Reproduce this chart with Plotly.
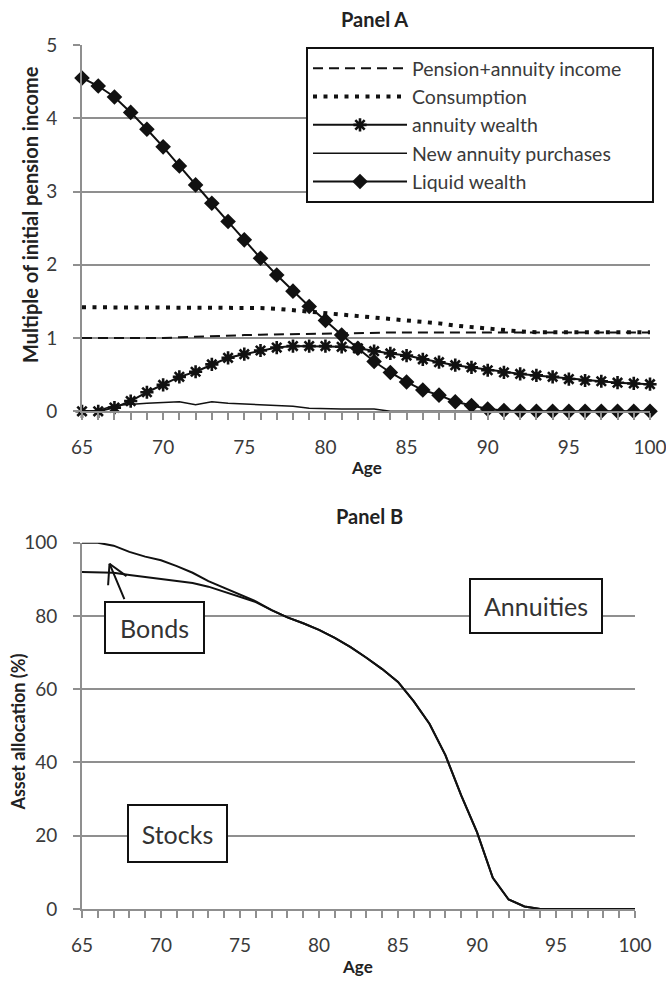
import plotly.graph_objects as go

# ---------------- data ----------------
ages = list(range(65, 101))

# Panel A (multiples of initial pension income)
pension_income = [1.00, 1.00, 0.995, 0.99, 0.99, 1.00, 1.01, 1.02, 1.025, 1.03, 1.04, 1.045,
                  1.05, 1.055, 1.06, 1.065, 1.07, 1.075, 1.075, 1.075, 1.075, 1.075, 1.075, 1.075,
                  1.075, 1.075, 1.075, 1.075, 1.075, 1.075, 1.075, 1.075, 1.075, 1.075, 1.075, 1.075]
consumption = [1.42, 1.42, 1.42, 1.42, 1.42, 1.42, 1.42, 1.42, 1.42, 1.42, 1.42, 1.41,
               1.40, 1.38, 1.37, 1.35, 1.33, 1.31, 1.29, 1.27, 1.25, 1.22, 1.20, 1.17,
               1.15, 1.12, 1.10, 1.09, 1.08, 1.08, 1.08, 1.08, 1.08, 1.08, 1.08, 1.08]
annuity_wealth = [0.00, 0.00, 0.05, 0.14, 0.26, 0.36, 0.47, 0.54, 0.64, 0.73, 0.78, 0.83,
                  0.87, 0.89, 0.89, 0.89, 0.88, 0.86, 0.82, 0.79, 0.76, 0.71, 0.67, 0.63,
                  0.60, 0.56, 0.53, 0.51, 0.49, 0.47, 0.44, 0.42, 0.41, 0.39, 0.38, 0.37]
new_annuity = [0.00, 0.01, 0.08, 0.10, 0.11, 0.12, 0.13, 0.09, 0.13, 0.11, 0.10, 0.10,
               0.08, 0.07, 0.04, 0.03, 0.03, 0.03, 0.03, 0.00, 0.00, 0.00, 0.00, 0.00,
               0.00, 0.00, 0.00, 0.00, 0.00, 0.00, 0.00, 0.00, 0.00, 0.00, 0.00, 0.00]
liquid_wealth = [4.55, 4.44, 4.29, 4.08, 3.85, 3.61, 3.35, 3.09, 2.84, 2.59, 2.34, 2.09,
                 1.86, 1.64, 1.43, 1.24, 1.04, 0.86, 0.68, 0.53, 0.40, 0.29, 0.22, 0.13,
                 0.08, 0.03, 0.01, 0.00, 0.00, 0.00, 0.00, 0.00, 0.00, 0.00, 0.00, 0.00]

# Panel B (asset allocation, %)
stocks_plus_bonds = [100.0, 100.0, 99.2, 97.5, 96.2, 95.2, 93.6, 91.8, 89.5, 87.6, 85.8, 84.0,
                     81.6, 79.6, 78.0, 76.2, 74.0, 71.5, 68.6, 65.5, 62.0, 56.7, 50.5, 42.0,
                     31.0, 21.0, 8.5, 2.6, 0.7, 0.0, 0.0, 0.0, 0.0, 0.0, 0.0, 0.0]
stocks = [92.0, 92.0, 91.8, 91.2, 90.6, 90.0, 89.5, 89.0, 88.0, 86.6, 85.2, 83.8,
          81.6, 79.6, 78.0, 76.2, 74.0, 71.5, 68.6, 65.5, 62.0, 56.7, 50.5, 42.0,
          31.0, 21.0, 8.5, 2.6, 0.7, 0.0, 0.0, 0.0, 0.0, 0.0, 0.0, 0.0]

legend_names = ["Pension+annuity income", "Consumption", "annuity wealth",
                "New annuity purchases", "Liquid wealth"]

# ---------------- style ----------------
FONT = "Lato"
GRID = "#8f8f8f"
TXT = "#3a3a3a"
BLK = "#111111"
NBSP = "\u00a0"

fig = go.Figure()

fig.add_trace(go.Scatter(x=ages, y=pension_income, name=legend_names[0] + NBSP * 5, mode="lines",
                         line=dict(color=BLK, width=2, dash="10px,6px"), cliponaxis=False))
fig.add_trace(go.Scatter(x=ages, y=consumption, name=legend_names[1], mode="lines",
                         line=dict(color=BLK, width=4, dash="4px,6.5px"), cliponaxis=False))
fig.add_trace(go.Scatter(x=ages, y=annuity_wealth, name=legend_names[2], mode="lines+markers",
                         line=dict(color=BLK, width=2),
                         marker=dict(symbol="asterisk-open", size=11, color=BLK,
                                     line=dict(color=BLK, width=2.6)), cliponaxis=False))
fig.add_trace(go.Scatter(x=ages, y=new_annuity, name=legend_names[3], mode="lines",
                         line=dict(color=BLK, width=1.5), cliponaxis=False))
fig.add_trace(go.Scatter(x=ages, y=liquid_wealth, name=legend_names[4], mode="lines+markers",
                         line=dict(color=BLK, width=2),
                         marker=dict(symbol="diamond", size=12, color=BLK), cliponaxis=False))

fig.add_trace(go.Scatter(x=ages, y=stocks_plus_bonds, mode="lines", showlegend=False,
                         line=dict(color=BLK, width=2), xaxis="x2", yaxis="y2"))
fig.add_trace(go.Scatter(x=ages, y=stocks, mode="lines", showlegend=False,
                         line=dict(color=BLK, width=2), xaxis="x2", yaxis="y2"))

tickfont = dict(family=FONT, size=19, color=TXT)

def xax(domain, anchor):
    return dict(domain=domain, anchor=anchor, range=[65, 100], tick0=65, dtick=5,
                ticks="outside", ticklen=7, tickwidth=1.5, tickcolor=GRID,
                minor=dict(dtick=1, ticks="outside", ticklen=7, tickwidth=1.5, tickcolor=GRID),
                showline=True, linecolor=GRID, linewidth=2, showgrid=False, zeroline=False,
                tickfont=tickfont, ticklabelstandoff=11, ticklabeloverflow="allow",
                fixedrange=True, automargin=False)

def yax(domain, anchor, rng, dtick):
    return dict(domain=domain, anchor=anchor, range=rng, dtick=dtick,
                ticks="outside", ticklen=7, tickwidth=1.5, tickcolor=GRID,
                showline=True, linecolor=GRID, linewidth=2, showgrid=True,
                gridcolor=GRID, gridwidth=2, zeroline=False,
                tickfont=tickfont, ticklabelstandoff=12, ticklabeloverflow="allow",
                fixedrange=True, automargin=False)

W, H = 666, 981
L, R, T, B = 82, 16, 45, 71.5
ph = H - T - B
pw = W - L - R

def py(ypix):
    return (H - B - ypix) / ph

def px(xpix):
    return (xpix - L) / pw

fig.update_layout(
    width=W, height=H,
    margin=dict(l=L, r=R, t=T, b=B, autoexpand=False),
    paper_bgcolor="white", plot_bgcolor="white",
    font=dict(family=FONT, color=TXT),
    xaxis=xax([0, 1], "y"),
    yaxis=yax([py(411.5), 1], "x", [0, 5], 1),
    xaxis2=xax([0, px(635)], "y2"),
    yaxis2=yax([0, py(543)], "x2", [0, 100], 20),
    showlegend=True,
    legend=dict(x=px(306), y=py(47), xanchor="left", yanchor="top",
                bgcolor="white", bordercolor=BLK, borderwidth=2,
                font=dict(family=FONT, size=19.5, color=TXT),
                itemwidth=94, tracegroupgap=0),
)

ann = []

def label(text, xp, yp, size, angle=0, color="#222"):
    return dict(text=text, x=px(xp), y=py(yp), xref="paper", yref="paper",
                xanchor="center", yanchor="middle", showarrow=False, textangle=angle,
                font=dict(family=FONT, size=size, color=color))

# panel titles
ann.append(label("<b>Panel A</b>", 374, 19, 20))
ann.append(label("<b>Panel B</b>", 369, 516, 20))
# axis titles
ann.append(label("<b>Age</b>", 366, 468, 17))
ann.append(label("<b>Age</b>", 357, 967, 17))
ann.append(label("<b>Multiple of initial pension income</b>", 30, 215, 20, -90))
ann.append(label("<b>Asset allocation (%)</b>", 18, 733, 18, -90))

# boxed labels in panel B
box = dict(showarrow=False, bgcolor="white", bordercolor=BLK, borderwidth=2, borderpad=1,
           font=dict(family=FONT, size=25, color="#333"), xref="paper", yref="paper",
           xanchor="center", yanchor="middle")
ann.append(dict(text="Annuities", x=px(536), y=py(606), width=128, height=50, **box))
ann.append(dict(text="Bonds", x=px(154.5), y=py(628), width=95, height=47, **box))
ann.append(dict(text="Stocks", x=px(177), y=py(834), width=95, height=53, **box))
# arrow from Bonds box (open V head)
tip = (px(109.5), py(564))
for axp, ayp in [(15.5, 37), (-1.5, 23), (18.5, 13.5)]:
    ann.append(dict(text="", x=tip[0], y=tip[1], xref="paper", yref="paper",
                    showarrow=True, arrowhead=0, arrowwidth=2, arrowcolor=BLK,
                    ax=axp, ay=ayp, standoff=0, startstandoff=0))
fig.update_layout(annotations=ann)

fig.write_html("out.html", config={"displayModeBar": False},
               post_script="document.body.style.margin='0px';")
